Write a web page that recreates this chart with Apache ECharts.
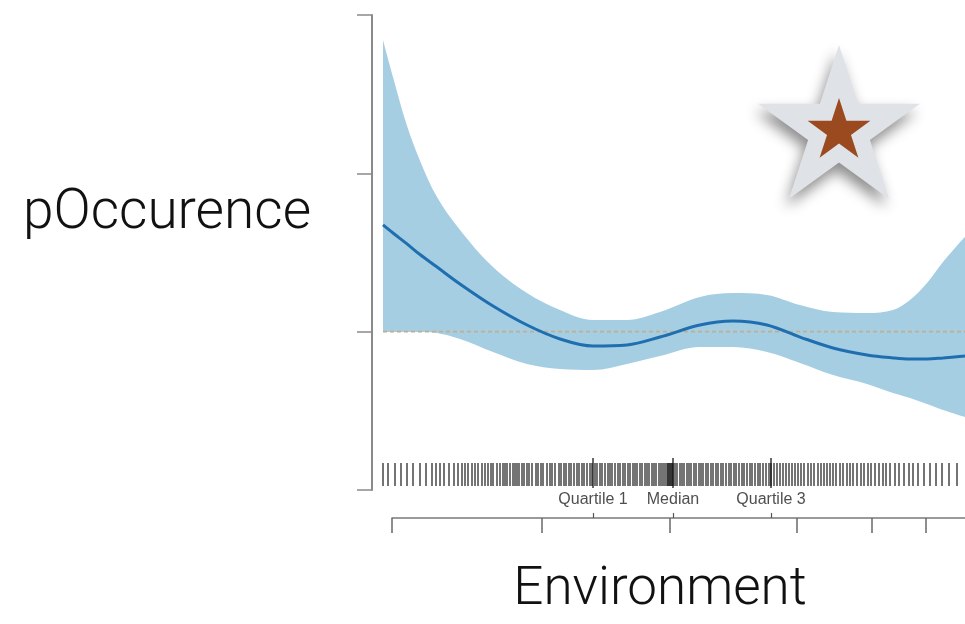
<!DOCTYPE html>
<html>
<head>
<meta charset="utf-8">
<script src="https://cdn.jsdelivr.net/npm/echarts@6/dist/echarts.min.js"></script>
<style>
  html, body { margin: 0; padding: 0; background: #fff; }
  #chart { width: 965px; height: 624px; }
</style>
</head>
<body>
<div id="chart"></div>
<script>
// environment values where the fitted curve was read
const envX = [0.0, 1.0, 2.4, 3.7, 5.4, 7.7, 11.0, 14.4, 17.7, 21.0, 24.4, 27.7, 31.7, 35.0, 38.4, 41.7, 45.0, 48.4, 51.0, 52.7, 54.4, 56.0, 58.2]
const fitP = [1.674, 1.623, 1.554, 1.487, 1.408, 1.301, 1.162, 1.042, 0.954, 0.909, 0.916, 0.966, 1.042, 1.067, 1.042, 0.966, 0.897, 0.853, 0.834, 0.827, 0.827, 0.834, 0.846]
const lowerP = [0.998, 0.998, 0.998, 0.998, 0.992, 0.954, 0.872, 0.796, 0.764, 0.758, 0.796, 0.846, 0.903, 0.903, 0.872, 0.802, 0.726, 0.670, 0.613, 0.581, 0.543, 0.505, 0.461]
const upperP = [2.842, 2.608, 2.300, 2.080, 1.850, 1.642, 1.408, 1.244, 1.137, 1.074, 1.074, 1.124, 1.219, 1.244, 1.232, 1.168, 1.124, 1.118, 1.137, 1.200, 1.307, 1.440, 1.600]
const refLevel = 1

// observations (rug)
const rugX = [
  0.0, 0.5, 1.2, 1.8, 2.4, 3.0, 3.7, 4.3, 4.9, 5.3, 5.7, 6.1, 6.6, 7.1, 7.5, 7.9, 8.2, 8.5, 8.9, 9.2,
  9.5, 9.9, 10.2, 10.5, 10.8, 11.0, 11.4, 11.7, 12.0, 12.2, 12.4, 12.7, 13.0, 13.2, 13.4, 13.6,
  13.9, 14.1, 14.4, 14.6, 14.9, 15.3, 15.5, 15.8, 16.0, 16.4, 16.7, 16.9, 17.2, 17.6, 17.8, 18.1,
  18.3, 18.6, 18.8, 19.1, 19.4, 19.6, 19.9, 20.1, 20.4, 20.7, 20.9, 21.2, 21.4, 21.7, 21.9, 22.2,
  22.5, 22.7, 22.9, 23.2, 23.5, 23.7, 24.0, 24.2, 24.5, 24.7, 25.0, 25.2, 25.4, 25.7, 25.9, 26.2,
  26.4, 26.6, 26.9, 27.1, 27.3, 27.6, 27.8, 28.0, 28.2, 28.4, 28.5, 28.6, 28.7, 28.8, 28.9, 29.0,
  29.2, 29.4, 29.7, 29.9, 30.1, 30.4, 30.6, 30.8, 31.1, 31.3, 31.6, 31.8, 32.0, 32.3, 32.5, 32.8,
  33.0, 33.3, 33.5, 33.8, 34.0, 34.3, 34.6, 34.8, 35.1, 35.3, 35.6, 35.9, 36.1, 36.4, 36.7, 36.9,
  37.2, 37.5, 37.7, 38.0, 38.3, 38.6, 38.8, 39.1, 39.4, 39.7, 40.0, 40.3, 40.6, 40.9, 41.2, 41.5,
  41.8, 42.1, 42.5, 42.8, 43.1, 43.5, 43.8, 44.1, 44.4, 44.7, 45.0, 45.3, 45.7, 46.0, 46.4, 46.7,
  47.0, 47.4, 47.8, 48.1, 48.5, 48.8, 49.2, 49.6, 50.0, 50.3, 50.7, 51.2, 51.6, 52.1, 52.6, 53.0,
  53.5, 54.1, 54.7, 55.3, 55.9, 56.6, 57.4
]
const quartileX = [21.0, 29.0, 38.8]
const quartileNames = ['Quartile 1', 'Median', 'Quartile 3']
const envTicks = [0.9, 15.9, 28.7, 41.4, 48.9, 54.3]

const xMax = 58.2

function starPoints (cx, cy, R, r) {
  let pts = []
  for (let i = 0; i < 10; i++) {
    let a = -Math.PI / 2 + i * Math.PI / 5
    let rad = i % 2 === 0 ? R : r
    pts.push([cx + rad * Math.cos(a), cy + rad * Math.sin(a)])
  }
  return pts
}

const myChart = echarts.init(document.getElementById('chart'))
const axisGray = '#8a8a8a'
const smoothness = 0.35

const option = {
  animation: false,
  grid: [
    { left: 383, right: 0, top: 15, bottom: 134 },
    { left: 392, right: 0, top: 500, bottom: 106 }
  ],
  xAxis: [
    { gridIndex: 0, type: 'value', min: 0, max: xMax, show: false },
    {
      gridIndex: 1, type: 'value', min: envTicks[0], max: xMax, position: 'bottom',
      splitLine: { show: false },
      axisLine: { lineStyle: { color: '#7a7a7a', width: 1.5 } },
      axisTick: { customValues: envTicks, length: 15, lineStyle: { color: '#6a6a6a', width: 1.5 } },
      axisLabel: { show: false, customValues: envTicks }
    },
    {
      gridIndex: 1, type: 'value', min: envTicks[0], max: xMax, position: 'bottom', offset: 0,
      splitLine: { show: false },
      axisLine: { show: false },
      axisTick: { customValues: quartileX, inside: true, length: 5, lineStyle: { color: '#555', width: 1.2 } },
      axisLabel: { show: false, customValues: quartileX }
    }
  ],
  yAxis: [
    {
      gridIndex: 0, type: 'value', min: 0, max: 3, interval: 1, offset: 11,
      splitLine: { show: false },
      axisLine: { show: true, onZero: false, lineStyle: { color: axisGray, width: 2 } },
      axisTick: { show: true, length: 15, lineStyle: { color: axisGray, width: 1.5 } },
      axisLabel: { show: false }
    },
    { gridIndex: 1, type: 'value', show: false }
  ],
  series: [
    // confidence band: upper bound filled, area under lower bound painted white
    {
      name: 'upper',
      type: 'line',
      z: 1,
      smooth: smoothness,
      symbol: 'none',
      lineStyle: { opacity: 0 },
      areaStyle: { color: '#a6cee3', opacity: 1 },
      data: envX.map((x, i) => [x, upperP[i]])
    },
    {
      name: 'lower',
      type: 'line',
      z: 1,
      smooth: smoothness,
      symbol: 'none',
      lineStyle: { opacity: 0 },
      areaStyle: { color: '#ffffff', opacity: 1 },
      data: envX.map((x, i) => [x, lowerP[i]])
    },
    {
      name: 'reference',
      type: 'line',
      z: 3,
      symbol: 'none',
      lineStyle: { color: '#c2ae8e', width: 1.8, type: [4, 3] },
      data: [[0, refLevel], [xMax, refLevel]]
    },
    {
      name: 'fit',
      type: 'line',
      z: 4,
      smooth: smoothness,
      symbol: 'none',
      lineStyle: { color: '#1f6fb0', width: 3 },
      data: envX.map((x, i) => [x, fitP[i]])
    },
    {
      name: 'rug',
      type: 'scatter',
      z: 5,
      symbol: 'rect',
      symbolSize: [1.8, 23],
      itemStyle: { color: 'rgba(0,0,0,0.76)' },
      silent: true,
      data: rugX.map(x => [x, 0.098])
    },
    {
      name: 'quartiles',
      type: 'scatter',
      z: 6,
      symbol: 'rect',
      symbolSize: [1.6, 30],
      itemStyle: { color: '#111' },
      silent: true,
      label: {
        show: true,
        position: 'bottom',
        distance: 4,
        formatter: p => p.name,
        fontFamily: 'Liberation Sans',
        fontSize: 16,
        color: '#222'
      },
      data: quartileX.map((x, i) => ({ name: quartileNames[i], value: [x, 0.107] }))
    }
  ],
  graphic: [
    {
      type: 'text',
      style: {
        text: 'pOccurence', x: 167, y: 214, textAlign: 'center', textVerticalAlign: 'middle',
        fontFamily: 'Roboto', fontWeight: 300, fontSize: 55, fill: '#111'
      }
    },
    {
      type: 'text',
      style: {
        text: 'Environment', x: 660, y: 591, textAlign: 'center', textVerticalAlign: 'middle',
        fontFamily: 'Roboto', fontWeight: 300, fontSize: 53, fill: '#111'
      }
    },
    {
      type: 'polygon',
      shape: { points: starPoints(839, 130, 85, 32.5) },
      style: {
        fill: '#dfe2e7',
        shadowBlur: 14, shadowOffsetX: -3, shadowOffsetY: 8, shadowColor: 'rgba(0,0,0,0.45)'
      }
    },
    {
      type: 'polygon',
      shape: { points: starPoints(839, 131, 33, 12.6) },
      style: { fill: '#9b4a20' }
    }
  ]
}
myChart.setOption(option)
</script>
</body>
</html>
